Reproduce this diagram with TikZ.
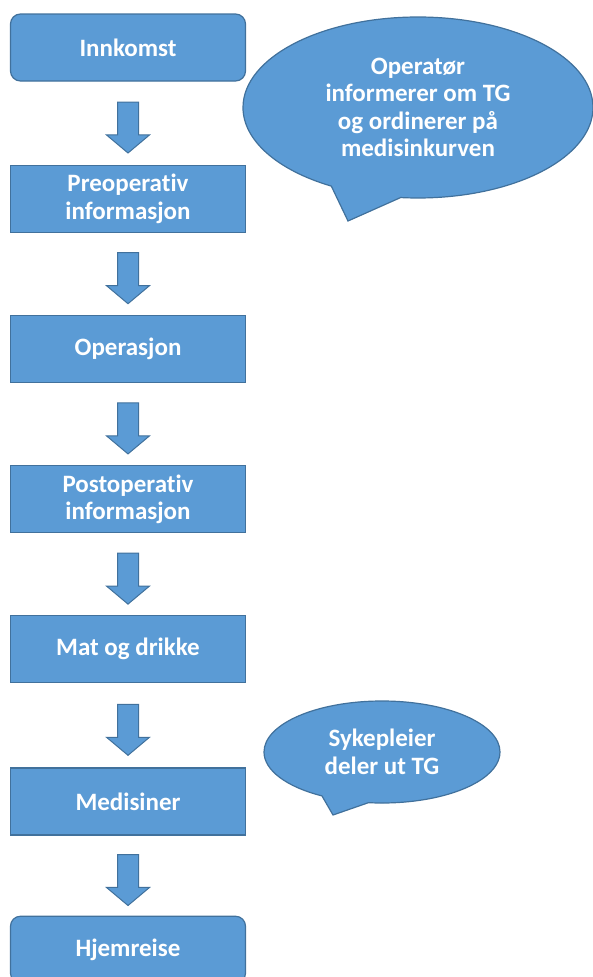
\documentclass[tikz,border=0pt]{standalone}
\usepackage{fontspec}
\setmainfont{Carlito}[Ligatures=NoCommon]
\usepackage{tikz}
\usetikzlibrary{shapes,shapes.arrows,shapes.callouts}
\usetikzlibrary{positioning,calc}
\definecolor{boxblue}{HTML}{5B9BD5}
\definecolor{boxedge}{HTML}{41719C}
\tikzstyle{block} = [draw=boxedge, fill=boxblue, line width=1.2pt,
    minimum width=235pt, minimum height=67pt, inner sep=0pt,
    text=white, align=center, font=\bfseries\fontsize{25}{27.5}\selectfont]
\tikzstyle{roundblock} = [block, rounded corners=10pt]
\tikzstyle{downarrow} = [draw=boxedge, fill=boxblue, line width=1pt,
    single arrow, rotate=-90, minimum height=51pt, inner sep=10pt,
    single arrow head extend=11pt, single arrow tip angle=100]
\tikzstyle{bubble} = [ellipse callout, draw=boxedge, fill=boxblue,
    line width=1.2pt, inner sep=0pt, callout pointer arc=24,
    text=white, align=center, font=\bfseries\fontsize{25}{27.5}\selectfont]

\begin{document}
\begin{tikzpicture}[x=1pt, y=1pt]
  \clip (0,0) rectangle (593,-977);
  % Place nodes
  \node [roundblock] (innkomst) at (128,-47.5) {Innkomst};
  \node [block, below=83pt of innkomst] (preop)
  {Preoperativ\\informasjon};
  \node [block, below=82pt of preop] (operasjon) {Operasjon};
  \node [block, below=82pt of operasjon] (postop)
  {Postoperativ\\informasjon};
  \node [block, below=82pt of postop] (mat) {Mat og drikke};
  \node [block, below=84pt of mat] (medisiner) {Medisiner};
  \node [roundblock, below=80pt of medisiner] (hjemreise) {Hjemreise};
  % Arrows
  \node [downarrow] (a1) at ($(innkomst.south)!0.5!(preop.north)$) {};
  \node [downarrow] (a2) at ($(preop.south)!0.5!(operasjon.north)$) {};
  \node [downarrow] (a3) at ($(operasjon.south)!0.5!(postop.north)$) {};
  \node [downarrow] (a4) at ($(postop.south)!0.5!(mat.north)$) {};
  \node [downarrow] (a5) at ($(mat.south)!0.5!(medisiner.north)$) {};
  \node [downarrow] (a6) at ($(medisiner.south)!0.5!(hjemreise.north)$) {};
  % Callouts
  \node [bubble, minimum width=350pt, minimum height=181pt,
    callout absolute pointer={(348,-221)}] (operator) at (418,-107.5)
  {Operatør\\informerer om TG\\og ordinerer på\\medisinkurven};
  \node [bubble, minimum width=236pt, minimum height=102pt,
    callout absolute pointer={(333,-815)}] (sykepleier) at (382,-752)
  {Sykepleier\\deler ut TG};
\end{tikzpicture}
\end{document}
